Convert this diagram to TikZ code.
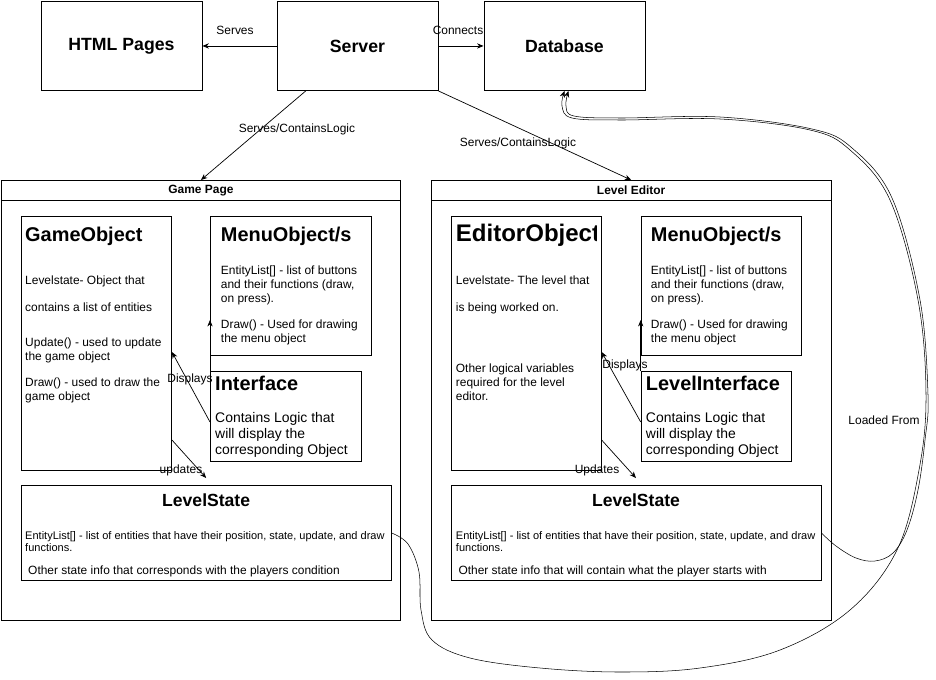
\documentclass[tikz,border=0pt]{standalone}
\usepackage{fontspec}
\setmainfont{Liberation Sans}
\usetikzlibrary{positioning,arrows.meta}
\newdimen\pxu
\pxu=0.03cm

\tikzset{
  box/.style={draw, line width=0.8pt, anchor=north west, inner sep=0pt},
  sized/.style 2 args={minimum width=#1*\pxu, minimum height=#2*\pxu},
  head/.style={font=\fontsize{15.1}{18}\selectfont\bfseries},
  bar/.style={font=\fontsize{10.2}{12}\selectfont\bfseries},
  title/.style={font=\fontsize{17}{20}\selectfont\bfseries, anchor=base west, inner sep=0pt},
  lstitle/.style={font=\fontsize{15}{18}\selectfont\bfseries, anchor=base, inner sep=0pt},
  body/.style={font=\fontsize{10.2}{11.95}\selectfont, align=left, anchor=north west, inner sep=0pt},
  bigbody/.style={font=\fontsize{11.9}{13.6}\selectfont, align=left, anchor=north west, inner sep=0pt},
  small/.style={font=\fontsize{9.4}{10.8}\selectfont, align=left, anchor=north west, inner sep=0pt},
  lbl/.style={font=\fontsize{10.2}{12}\selectfont, inner sep=0pt},
  arr/.style={-{Stealth[length=5.5pt,width=4.5pt]}, line width=0.6pt},
  wire/.style={-{Stealth[length=5.5pt,width=4.5pt]}, line width=0.45pt},
}

\begin{document}
\begin{tikzpicture}[x=0.03cm, y=-0.03cm]
  \useasboundingbox (0,0) rectangle (936,679);
  \fill[white] (0,0) rectangle (936,679);

  % top row
  \node[box, sized={161}{89}, head] (html) at (40.5,1) {HTML Pages};
  \node[box, sized={161}{89}, head] (server) at (276.5,1) {Server};
  \node[box, sized={161}{89}, head] (db) at (483.5,1) {Database};
  \draw[arr] (server) -- (html);
  \draw[arr] (server) -- (db);
  \node[lbl] (serves) at (235,30) {Serves};
  \node[lbl] (connects) at (458,30) {Connects};

  % game page
  \node[box, sized={399}{440}] (gp) at (1,180) {};
  \node[box, sized={399}{20}, bar] (gphead) at (1,180) {Game Page};

  \node[box, sized={150}{254}] (go) at (21,216) {};
  \node[title] (gotitle) at (25,241.7) {GameObject};
  \node[body] (go1) at (25,276) {Levelstate- Object that};
  \node[body] (go2) at (25,303) {contains a list of entities};
  \node[body] (go3) at (25,338) {Update() - used to update\\the game object};
  \node[body] (go4) at (25,378) {Draw() - used to draw the\\game object};

  \node[box, sized={161}{139}] (gmenu) at (210,216) {};
  \node[title] (gmenutitle) at (220.7,241.7) {MenuObject/s};
  \node[body] (gmenu1) at (220.7,266) {EntityList[] - list of buttons\\and their functions (draw,\\on press).};
  \node[body] (gmenu2) at (220.7,320) {Draw() - Used for drawing\\the menu object};

  \node[box, sized={151}{90}] (giface) at (210,371) {};
  \node[title] (gifacetitle) at (215,390) {Interface};
  \node[bigbody] (giface1) at (215,412) {Contains Logic that\\will display the\\corresponding Object};

  \node[box, sized={370}{95}] (gls) at (20.7,485) {};
  \node[lstitle] (glstitle) at (gls.north |- 0,506) {LevelState};
  \node[small] (gls1) at (25,531) {EntityList[] - list of entities that have their position, state, update, and draw\\functions.};
  \node[lbl, anchor=base west] (gls2) at (28,574) {Other state info that corresponds with the players condition};

  \draw[arr] (giface.west |- 0,422) -- (go.east |- 0,352);
  \node[lbl] (gdisp) at (190,379) {Displays};
  \draw[arr] (giface.north west) -- (gmenu.west |- 0,320);
  \draw[arr] (go.east |- 0,440) -- (gls.north |- 0,478);
  \node[lbl] (gupd) at (181,470) {updates};

  % level editor
  \node[box, sized={400}{440}] (le) at (430.7,180) {};
  \node[box, sized={400}{20}, bar] (lehead) at (430.7,180) {Level Editor};

  \node[box, sized={150}{254}] (edo) at (450.7,216) {};
  \begin{scope}
    \clip (450.7,216) rectangle (596,470);
    \node[title, font=\fontsize{20.5}{24}\selectfont\bfseries] (edotitle) at (455.7,241) {EditorObject};
  \end{scope}
  \node[body] (edo1) at (455.7,276) {Levelstate- The level that};
  \node[body] (edo2) at (455.7,303) {is being worked on.};
  \node[body] (edo3) at (455.7,364) {Other logical variables\\required for the level\\editor.};

  \node[box, sized={160}{139}] (emenu) at (640.7,216) {};
  \node[title] (emenutitle) at (650.7,241.7) {MenuObject/s};
  \node[body] (emenu1) at (650.7,266) {EntityList[] - list of buttons\\and their functions (draw,\\on press).};
  \node[body] (emenu2) at (650.7,320) {Draw() - Used for drawing\\the menu object};

  \node[box, sized={150}{90}] (eiface) at (640.7,371) {};
  \node[title] (eifacetitle) at (645.7,390) {LevelInterface};
  \node[bigbody] (eiface1) at (645.7,412) {Contains Logic that\\will display the\\corresponding Object};

  \node[box, sized={370}{95}] (els) at (450.5,485) {};
  \node[lstitle] (elstitle) at (els.north |- 0,506) {LevelState};
  \node[small] (els1) at (455.7,531) {EntityList[] - list of entities that have their position, state, update, and draw\\functions.};
  \node[lbl, anchor=base west] (els2) at (458.3,574) {Other state info that will contain what the player starts with};

  \draw[arr] (eiface.west |- 0,422) -- (edo.east |- 0,352);
  \node[lbl] (edisp) at (625,365) {Displays};
  \draw[arr] (eiface.north west) -- (emenu.west |- 0,320);
  \draw[arr] (edo.east |- 0,440) -- (els.north |- 0,478);
  \node[lbl] (eupd) at (597,470) {Updates};

  % server to the pages
  \draw[arr] (server.-139) -- (gphead.north);
  \draw[arr] (server.south east) -- (lehead.north);
  \node[lbl] (sc1) at (297,129) {Serves/ContainsLogic};
  \node[lbl] (sc2) at (518,143) {Serves/ContainsLogic};

  % loaded from the database
  \draw[wire] plot[smooth, tension=0.6] coordinates {(gls.east) (408,544) (419,572) (421,610) (432,640) (470,658) (540,668) (620,672) (700,668) (780,650) (850,610) (897,550) (919,470) (926,395) (918,300) (890,200) (850,150) (810,130) (720,119) (620,120) (572,118) (562,106) (db.south)};
  \draw[wire] plot[smooth, tension=0.6] coordinates {(els.east) (836,546) (856,558) (875,561) (893,553) (907,530) (918,490) (925,440) (928,395) (920,300) (892,198) (852,148) (812,129) (720,117) (620,118) (574,116) (566,106) (db.-85)};
  \node[lbl] (loaded) at (884,420) {Loaded From};
\end{tikzpicture}
\end{document}
